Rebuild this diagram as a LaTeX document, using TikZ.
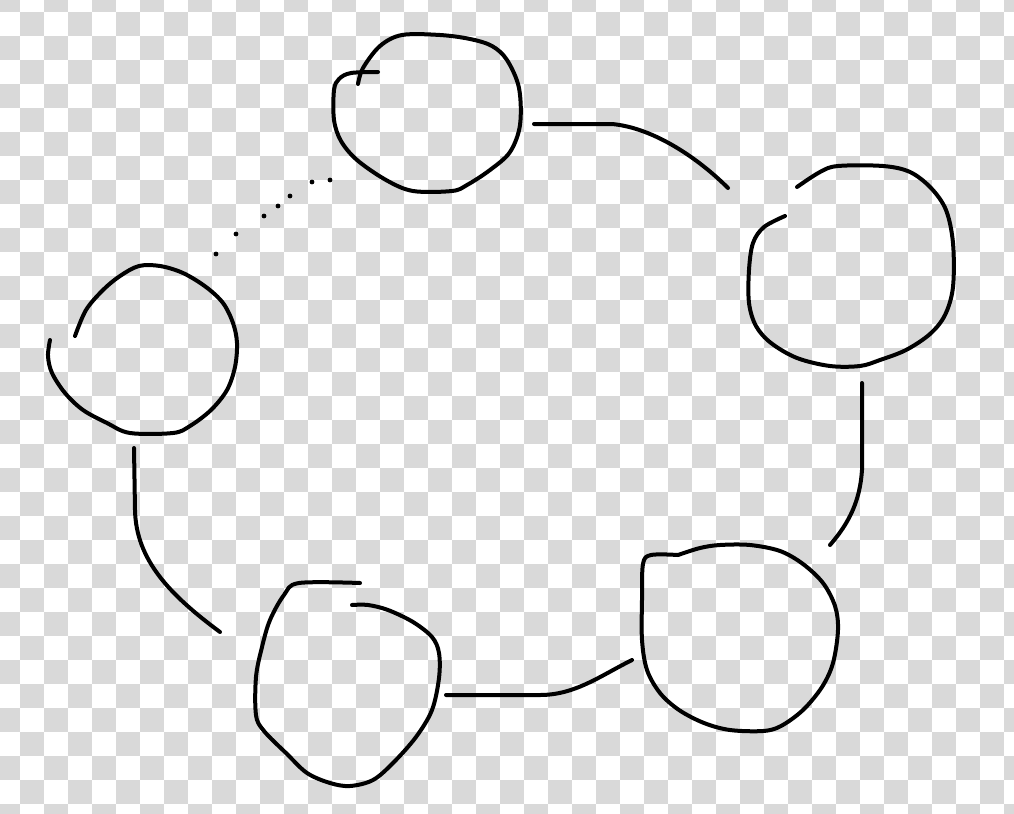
\documentclass[tikz,border=0pt]{standalone}
\begin{document}
\begin{tikzpicture}[x=0.75pt,y=-0.75pt,
  pen/.style={line width=3pt,line cap=round,line join=round,black},
  sk/.style={smooth,tension=0.55},
  dotmark/.style={fill=black,circle,inner sep=0pt,minimum size=3.6pt}]
\definecolor{checker}{RGB}{217,217,217}
\useasboundingbox (0,0) rectangle (1014,814);
\clip (0,0) rectangle (1014,814);
\fill[white] (0,0) rectangle (1014,814);
\foreach \i in {0,...,42}{
  \foreach \j in {0,...,34}{
    \ifodd\numexpr\i+\j\relax\else
      \fill[checker] ({-4+24*\i},{-12+24*\j}) rectangle ++(24,24);
    \fi
  }
}
% circle 1 (top)
\draw[pen] plot[sk] coordinates {(358,84) (363,68) (380,46) (402,35) (440,35) (470,39) (492,46) (507,60) (519,88) (520,125) (510,152) (490,170) (467,185) (452,191) (413,191) (386,180) (357,160) (341,141) (334,120) (334,90) (339,79) (351,73) (378,72)};
% connector top -> right
\coordinate (c1a) at (534,124);
\coordinate (c1b) at (728,188);
\draw[pen] (c1a) -- (612,124) .. controls (655,128) and (700,160) .. (c1b);
% circle 2 (right)
\draw[pen] plot[sk] coordinates {(797,187) (820,172) (838,166) (883,166) (910,172) (931,188) (946,210) (953,243) (953,287) (945,315) (930,334) (906,350) (880,360) (860,366) (830,366) (797,358) (771,343) (756,326) (749,303) (749,270) (753,243) (764,227) (785,216)};
% connector right -> bottom right
\coordinate (c2a) at (862,383);
\coordinate (c2b) at (830,545);
\draw[pen] (c2a) -- (862,470) .. controls (860,500) and (850,522) .. (c2b);
% circle 3 (bottom right)
\draw[pen] plot[sk] coordinates {(678,555) (651,555) (643,564) (642,600) (642,640) (647,670) (660,693) (679,710) (704,723) (730,730) (763,731) (781,726) (803,710) (822,687) (833,663) (838,630) (835,606) (823,583) (803,564) (780,551) (750,545) (720,545) (700,548) (678,555)};
% connector bottom right -> bottom middle
\coordinate (c3a) at (632,660);
\coordinate (c3b) at (446,695);
\draw[pen] (c3a) .. controls (600,676) and (575,695) .. (540,695) -- (c3b);
% circle 4 (bottom middle)
\draw[pen] plot[sk] coordinates {(360,583) (299,583) (284,595) (270,620) (262,647) (256,677) (256,715) (264,731) (287,754) (307,773) (330,783) (350,786) (373,780) (393,763) (416,737) (432,710) (439,678) (439,653) (432,637) (413,622) (388,610) (368,605) (352,605)};
% connector bottom middle -> left
\coordinate (c4a) at (220,632);
\coordinate (c4b) at (134,448);
\draw[pen] (c4a) .. controls (170,595) and (136,560) .. (135,510) -- (c4b);
% circle 5 (left)
\draw[pen] plot[sk] coordinates {(75,336) (86,310) (103,290) (120,276) (139,266) (160,266) (183,273) (206,287) (223,303) (233,323) (237,343) (235,367) (227,390) (211,410) (190,426) (173,433) (130,433) (107,423) (83,410) (65,393) (52,373) (48,356) (50,340)};
% dotted connector left -> top
\foreach \p [count=\k] in {(216,254),(236,234),(264,216),(278,206),(290,196),(312,182),(330,180)}
  \node[dotmark] (d\k) at \p {};
\end{tikzpicture}
\end{document}
